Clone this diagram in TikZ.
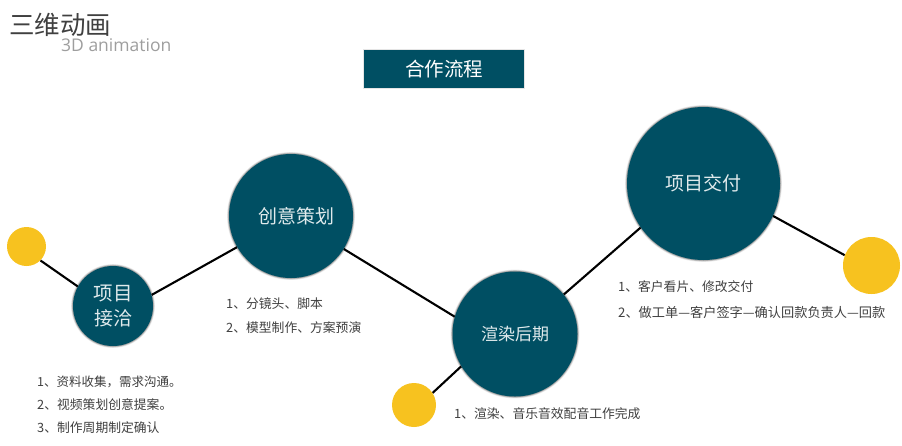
\documentclass[tikz,border=0pt]{standalone}
\usepackage{fontspec}
\setmainfont{Noto Sans CJK SC}
\newfontfamily\latinfont{Open Sans}
\usetikzlibrary{backgrounds}
\definecolor{teal}{HTML}{004F63}
\definecolor{gold}{HTML}{F7C21F}
\definecolor{bodytext}{HTML}{404040}
\newcommand{\fs}[1]{\fontsize{#1pt}{#1pt}\selectfont}
\tikzset{
  soft/.style={
    preaction={draw=black,draw opacity=.08,line width=3.8pt},
    preaction={draw=black,draw opacity=.14,line width=2.6pt},
    preaction={draw=black,draw opacity=.22,line width=1.3pt}},
  stage/.style={circle,fill=teal,inner sep=0pt,minimum size=#1,soft,text=white!88!teal,align=center,font=\fs{19}},
  dot/.style={circle,fill=gold,inner sep=0pt,minimum size=#1},
  link/.style={draw=black,line width=2.1pt},
  note/.style={anchor=west,inner sep=0pt,text=bodytext,font=\fs{12.8}},
}
\begin{document}
\begin{tikzpicture}[x=1pt,y=-1pt]
\useasboundingbox (0,0) rectangle (902,445);
\node[dot=39pt] (d1) at (26.5,246.5) {};
\node[dot=44pt] (d2) at (414,405) {};
\node[dot=57pt] (d3) at (871.5,265.5) {};
\node[stage=80pt] (s1) at (113,306) {\fs{19.5}项目\\[6pt]接洽};
\node[stage=124pt] (s2) at (291,216) {\hspace*{11pt}创意策划};
\node[stage=125pt] (s3) at (515,334) {\fs{17}渲染后期};
\node[stage=153pt] (s4) at (703.5,183.5) {项目交付};
\node[fill=teal,minimum width=160pt,minimum height=38pt,inner sep=0pt,text=white,font=\fs{19.5},
  preaction={draw=black,draw opacity=.10,line width=1.6pt}] (head) at (444,69) {合作流程};
\node[anchor=west,inner sep=0pt,text=black!75,font=\fs{25.5}] (title) at (9,25) {三维动画};
\node[anchor=west,inner sep=0pt,text=black!38,font=\latinfont\fs{17.5}] (sub) at (61,45) {3D animation};
\node[note,font=\fs{12.5}] (n1a) at (37,382) {1、资料收集，需求沟通。};
\node[note] (n1b) at (37,405) {2、视频策划创意提案。};
\node[note] (n1c) at (37,428) {3、制作周期制定确认};
\node[note] (n2a) at (226,304) {1、分镜头、脚本};
\node[note] (n2b) at (226,328) {2、模型制作、方案预演};
\node[note] (n3a) at (454,414) {1、渲染、音乐音效配音工作完成};
\node[note] (n4a) at (618,287) {1、客户看片、修改交付};
\node[note,font=\fs{13.2}] (n4b) at (618,312) {2、做工单—客户签字—确认回款负责人—回款};
\begin{pgfonlayer}{background}
\fill[white] (0,0) rectangle (902,445);
\draw[link] (d1.-45) -- (s1.151.6);
\draw[link] (s1.16.7) -- (s2.210.6);
\draw[link] (s2.-32.3) -- (s3.164.4);
\draw[link] (d2.33.7) -- (s3.211.9);
\draw[link] (s3.39.9) -- (s4.215);
\draw[link] (s4.-25.7) -- (d3.159.8);
\end{pgfonlayer}
\end{tikzpicture}
\end{document}
